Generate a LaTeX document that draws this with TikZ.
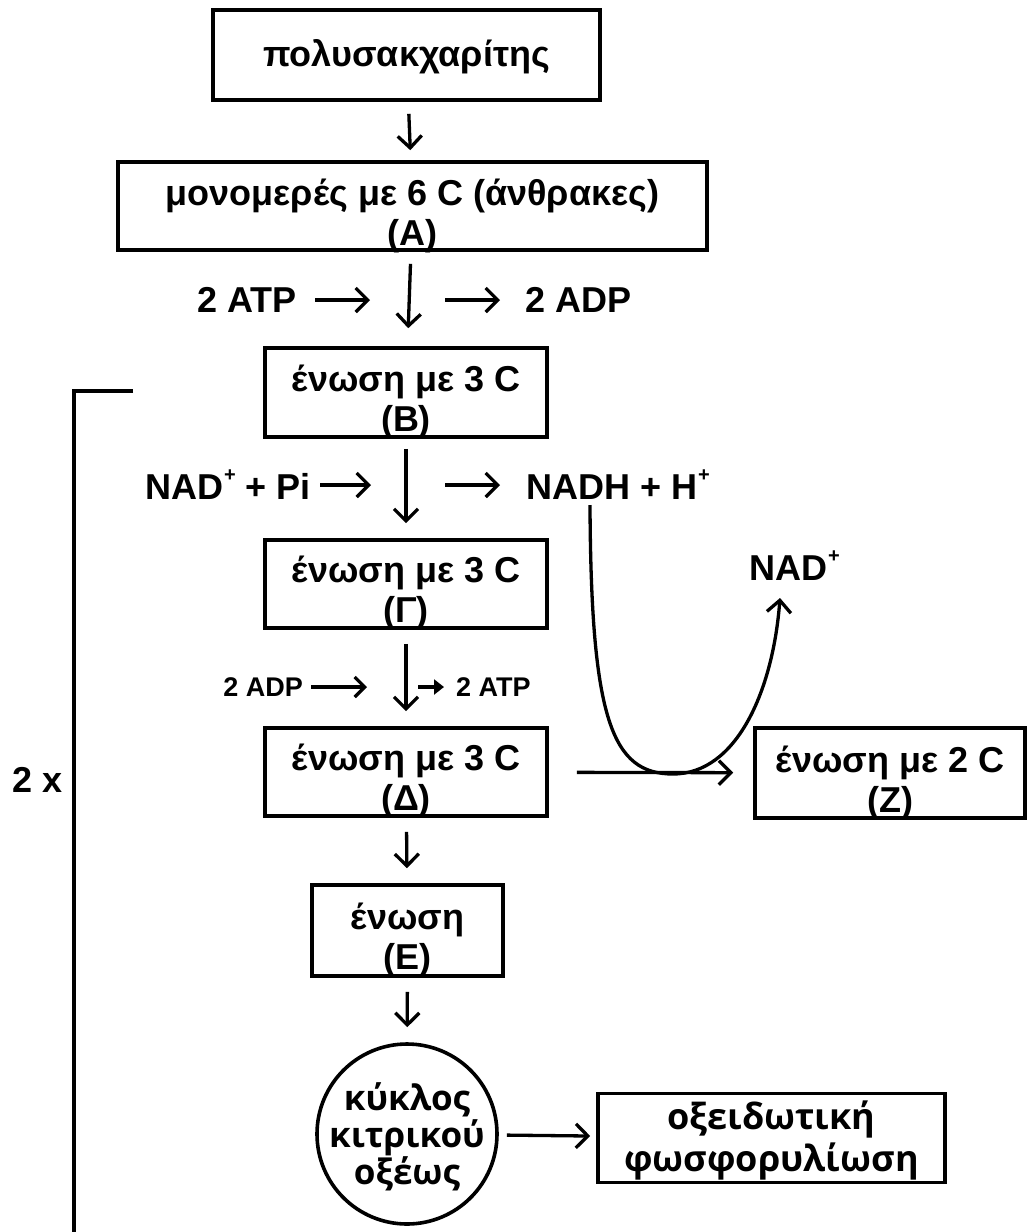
\documentclass[tikz,border=0pt]{standalone}
\usepackage{fontspec}
\setmainfont{Liberation Sans}
\newfontfamily\osans{Open Sans}
\usetikzlibrary{arrows.meta,shapes.geometric}
\newcommand{\supplus}{\raisebox{0.5em}{\fontsize{20}{20}\selectfont\bfseries +}}
\begin{document}
\begin{tikzpicture}[x=1pt,y=-1pt,
  box/.style={draw, line width=3.6pt, inner sep=0pt, minimum width=#1},
  txt/.style={font=\fontsize{36}{40}\selectfont\bfseries, align=center, inner sep=0pt},
  lab/.style={font=\fontsize{36}{40}\selectfont\bfseries, inner sep=0pt},
  slab/.style={font=\fontsize{27}{30}\selectfont\bfseries, inner sep=0pt},
  ktxt/.style={font=\osans\fontsize{35}{37}\selectfont\bfseries, align=center, inner sep=0pt},
  oxtxt/.style={font=\osans\fontsize{36}{42}\selectfont\bfseries, align=center, inner sep=0pt},
  flow/.style={line width=3.3pt, -{Straight Barb[length=12pt,width=24pt]}},
  thin flow/.style={line width=3.3pt, -{Straight Barb[length=10pt,width=20pt]}}]
\useasboundingbox (0,0) rectangle (1032,1232);

% boxes
\node[box=387pt, minimum height=90pt] (P) at (406.5,55) {};
\node[txt] (Pt) at (406.5,57) {πολυσακχαρίτης};
\node[box=589pt, minimum height=88pt] (A) at (412.5,206) {};
\node[txt] (At) at (412.5,216) {μονομερές με 6 C (άνθρακες)\\(A)};
\node[box=282pt, minimum height=89pt] (B) at (406,392.5) {};
\node[txt] (Bt) at (406,402) {ένωση με 3 C\\(B)};
\node[box=282pt, minimum height=88pt] (G) at (406,584) {};
\node[txt] (Gt) at (406,593) {ένωση με 3 C\\(Γ)};
\node[box=282pt, minimum height=88pt] (D) at (406,772) {};
\node[txt] (Dt) at (406,781) {ένωση με 3 C\\(Δ)};
\node[box=270pt, minimum height=90pt] (Z) at (890,773) {};
\node[txt] (Zt) at (890,783) {ένωση με 2 C\\(Z)};
\node[box=191pt, minimum height=91pt] (E) at (407.5,930.5) {};
\node[txt] (Et) at (407.5,940) {ένωση\\(E)};
\node[draw, line width=3.6pt, ellipse, inner sep=0pt, minimum width=180pt, minimum height=180pt] (K) at (407,1134) {};
\node[ktxt] (Kt) at (407,1137) {κύκλος\\κιτρικού\\οξέως};
\node[box=347pt, minimum height=89pt] (O) at (771.5,1138) {};
\node[oxtxt] (Ot) at (771.5,1140) {οξειδωτική\\φωσφορυλίωση};

% main flow
\draw[flow, shorten <=12pt, shorten >=10pt] (P) -- (A);
\draw[flow, shorten <=12pt, shorten >=18pt] (A) -- (B);
\draw[flow, shorten <=10pt, shorten >=15pt] (B) -- (G);
\draw[flow, shorten <=14pt, shorten >=15pt] (G) -- (D);
\draw[flow, shorten <=14pt, shorten >=15pt] (D) -- (E);
\draw[flow, shorten <=14pt, shorten >=15pt] (E) -- (K);
\draw[flow, shorten <=8pt, shorten >=6pt] (K) -- (O);
\draw[flow, shorten <=28pt, shorten >=20pt] (D) -- (Z);

% side labels row 1
\node[lab, anchor=east] (atp1) at (297,300) {2 ATP};
\node[lab, anchor=west] (adp1) at (525,300) {2 ADP};
\draw[flow] ([xshift=18pt]atp1.east) -- ++(55,0);
\draw[flow] ([xshift=-80pt]adp1.west) -- ++(55,0);

% side labels row 2
\node[lab, anchor=east] (nad1) at (311,485) {NAD\kern1pt\supplus\ + Pi};
\node[lab, anchor=west] (nadh) at (526,485) {NADH + H\kern1pt\supplus};
\draw[flow] ([xshift=9pt]nad1.east) -- ++(51,0);
\draw[flow] ([xshift=-81pt]nadh.west) -- ++(55,0);

% side labels row 3
\node[slab, anchor=east] (adp2) at (303,687) {2 ADP};
\node[slab, anchor=west] (atp2) at (456,687) {2 ATP};
\draw[thin flow] ([xshift=8pt]adp2.east) -- ++(56,0);
\draw[line width=3.3pt, -{Triangle[length=10pt,width=15pt]}] ([xshift=-38pt]atp2.west) -- ++(26,0);

% NADH -> NAD+ curve
\coordinate (c0) at (590,505);
\node[lab, anchor=base west] (nadp) at (749,580) {NAD\kern1pt\supplus};
\coordinate (c1) at (780,598);
\draw[flow] (c0) .. controls (591,720) and (612,774) .. (673,774)
  .. controls (737,774) and (773,690) .. (c1);

% 2x bracket
\coordinate (br0) at (133,391);
\coordinate (br1) at (74,391);
\coordinate (br2) at (74,1232);
\draw[line width=3.3pt] (br0) -- (br1) -- (br2);
\node[lab, anchor=east] (twox) at (63,780) {2 x};
\end{tikzpicture}
\end{document}
